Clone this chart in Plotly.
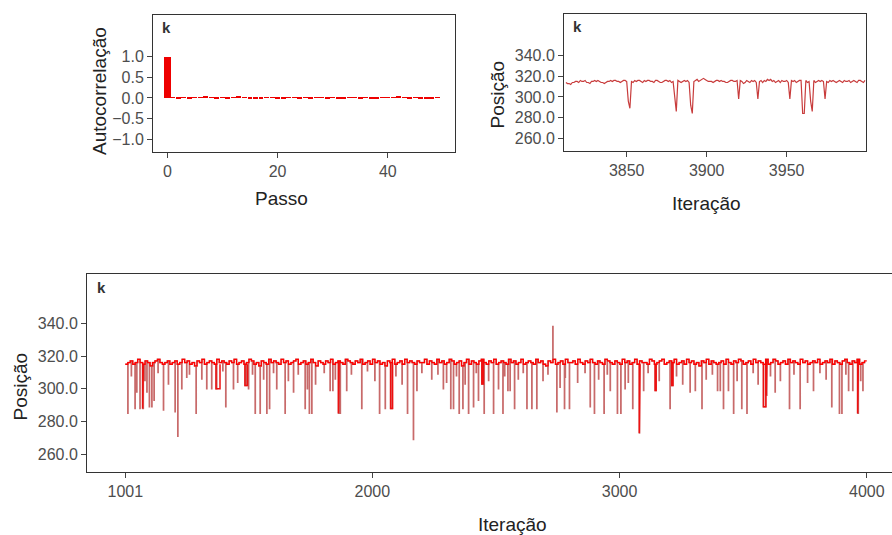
import plotly.graph_objects as go

W, H = 892, 535

# ---------------- data ----------------
# ACF (top-left)
acf_lag = list(range(0, 50))
acf_val = [1.0, 0.02, -0.02, 0.005, -0.005, 0.005, 0.01, 0.025, 0.005, -0.005,
           0.005, -0.02, 0.005, 0.025, 0.005, -0.005, -0.02, -0.02, 0.005, 0.005,
           -0.005, -0.02, 0.005, 0.005, -0.005, 0.005, -0.02, 0.005, 0.005, -0.005,
           0.005, -0.02, -0.02, 0.005, 0.005, -0.005, 0.005, -0.02, -0.02, 0.005,
           0.005, 0.005, 0.025, 0.005, -0.005, 0.005, -0.02, -0.02, -0.005, 0.005]

# Trace of the last iterations (top-right)
tail_iter = list(range(3812, 4000))
tail_pos = [314, 313, 313, 312, 314, 314, 315, 315, 314, 316,
            315, 315, 316, 314, 314, 313, 315, 315, 316, 315,
            316, 315, 314, 314, 313, 314, 315, 315, 316, 315,
            316, 316, 315, 315, 314, 315, 316, 316, 315, 296,
            289, 315, 314, 316, 315, 316, 316, 315, 314, 316,
            315, 316, 316, 315, 315, 314, 316, 316, 315, 314,
            314, 315, 316, 316, 315, 316, 314, 315, 300, 286,
            316, 315, 314, 315, 316, 315, 316, 314, 292, 284,
            315, 316, 317, 315, 316, 317, 318, 317, 316, 315,
            315, 315, 314, 315, 316, 316, 315, 316, 315, 315,
            314, 314, 315, 316, 316, 315, 315, 316, 298, 316,
            315, 313, 314, 316, 315, 314, 316, 315, 316, 314,
            298, 315, 316, 314, 316, 315, 317, 316, 317, 315,
            316, 314, 315, 316, 314, 316, 315, 315, 316, 314,
            298, 316, 315, 316, 314, 315, 316, 316, 284, 284,
            316, 314, 315, 296, 286, 316, 314, 315, 316, 315,
            316, 315, 298, 315, 314, 316, 315, 316, 315, 314,
            315, 316, 315, 314, 316, 315, 315, 316, 314, 315,
            316, 315, 314, 316, 316, 315, 314, 316]

# Full trace (bottom): baseline level every 10 iterations + excursions
base_iter = list(range(1001, 4001, 10))
base_pos = [315, 316, 317, 315, 316, 318, 316, 315, 317, 316, 314, 316, 317, 318, 316, 315, 316, 317, 315, 316,
            317, 315, 316, 318, 316, 317, 315, 316, 314, 317, 316, 318, 315, 316, 317, 316, 315, 318, 316, 317,
            316, 315, 317, 316, 318, 315, 316, 317, 315, 316, 318, 317, 315, 316, 314, 317, 316, 315, 318, 316,
            317, 316, 315, 318, 316, 317, 315, 316, 317, 318, 315, 316, 317, 315, 316, 318, 316, 314, 317, 316,
            315, 317, 316, 318, 315, 316, 317, 316, 315, 318, 317, 316, 315, 317, 316, 318, 315, 316, 317, 315,
            318, 316, 317, 315, 316, 314, 317, 316, 318, 315, 316, 317, 315, 318, 316, 317, 316, 315, 317, 316,
            316, 318, 315, 317, 316, 315, 318, 316, 317, 315, 316, 318, 317, 315, 316, 317, 314, 316, 318, 315,
            317, 316, 315, 317, 318, 316, 315, 317, 316, 318, 315, 316, 317, 316, 315, 318, 316, 317, 315, 316,
            318, 315, 316, 317, 316, 315, 318, 316, 317, 315, 314, 317, 316, 318, 315, 316, 317, 315, 318, 316,
            316, 317, 315, 318, 316, 315, 317, 316, 318, 316, 315, 317, 316, 315, 318, 317, 316, 315, 317, 316,
            315, 318, 316, 317, 315, 316, 318, 315, 317, 316, 316, 315, 318, 317, 315, 316, 317, 318, 315, 316,
            317, 316, 318, 315, 316, 317, 315, 318, 316, 317, 315, 316, 314, 317, 316, 318, 315, 317, 316, 315,
            316, 317, 315, 318, 316, 315, 317, 316, 318, 317, 315, 316, 317, 315, 318, 316, 317, 316, 315, 318,
            315, 316, 318, 317, 315, 316, 317, 315, 318, 316, 317, 316, 315, 318, 316, 317, 315, 316, 317, 316,
            318, 315, 316, 317, 316, 318, 315, 317, 316, 315, 317, 318, 316, 315, 317, 316, 318, 315, 316, 317]
# deep excursions
dip_iter = [1011, 1040, 1047, 1060, 1071, 1088, 1098, 1108, 1117, 1155,
            1202, 1213, 1229, 1249, 1287, 1330, 1350, 1368, 1407, 1438,
            1485, 1499, 1526, 1546, 1573, 1584, 1613, 1647, 1681, 1728,
            1737, 1745, 1755, 1829, 1840, 1863, 1870, 1896, 1957, 2029,
            2052, 2074, 2142, 2166, 2180, 2287, 2317, 2328, 2351, 2366,
            2389, 2409, 2429, 2443, 2452, 2490, 2510, 2528, 2548, 2557,
            2575, 2625, 2645, 2665, 2730, 2746, 2759, 2777, 2797, 2881,
            2898, 2937, 2962, 2991, 3005, 3022, 3053, 3080, 3097, 3144,
            3204, 3211, 3285, 3306, 3333, 3396, 3407, 3420, 3440, 3461,
            3494, 3515, 3582, 3593, 3629, 3687, 3730, 3784, 3858, 3889,
            3899, 3926, 3943, 3963, 3984]
dip_pos = [285, 288, 298, 288, 288, 298, 289, 289, 293, 287,
           286, 271, 300, 307, 285, 300, 300, 300, 289, 300,
           302, 300, 285, 285, 285, 288, 300, 285, 298, 288,
           300, 285, 285, 299, 299, 285, 285, 299, 288, 285,
           288, 288, 285, 269, 299, 300, 288, 288, 285, 288,
           285, 289, 293, 303, 285, 285, 300, 285, 299, 299,
           288, 288, 288, 288, 338, 286, 301, 288, 288, 289,
           285, 285, 299, 285, 285, 300, 288, 273, 299, 299,
           288, 302, 298, 299, 288, 299, 299, 288, 299, 285,
           288, 285, 289, 296, 298, 288, 288, 299, 289, 285,
           285, 299, 299, 285, 299]
dip_len = [1, 1, 1, 1, 3, 1, 1, 1, 1, 1,
           1, 1, 1, 1, 1, 1, 1, 16, 1, 1,
           10, 1, 1, 1, 1, 1, 1, 1, 1, 1,
           1, 1, 1, 1, 1, 3, 1, 1, 1, 1,
           1, 8, 1, 1, 1, 1, 1, 1, 1, 1,
           1, 1, 1, 6, 1, 1, 1, 1, 1, 1,
           1, 1, 1, 1, 1, 1, 1, 1, 1, 1,
           1, 1, 1, 1, 1, 1, 1, 3, 1, 4,
           1, 5, 1, 1, 1, 1, 1, 1, 1, 1,
           1, 1, 10, 3, 1, 1, 1, 1, 1, 1,
           1, 1, 1, 3, 1]
# shallow excursions
shallow_iter = [1025, 1080, 1133, 1175, 1260, 1310, 1395, 1455, 1515, 1560,
                1600, 1660, 1700, 1770, 1805, 1850, 1915, 1980, 2010, 2095,
                2120, 2200, 2240, 2265, 2300, 2340, 2375, 2420, 2470, 2535,
                2590, 2610, 2690, 2710, 2780, 2830, 2860, 2915, 2950, 3035,
                3115, 3160, 3230, 3255, 3350, 3375, 3475, 3540, 3560, 3610,
                3650, 3705, 3760, 3810, 3835, 3915, 3975]
shallow_pos = [308, 305, 310, 303, 309, 306, 311, 304, 309, 306,
               310, 305, 309, 303, 310, 306, 309, 311, 305, 308,
               303, 310, 306, 309, 304, 308, 303, 310, 305, 308,
               306, 310, 305, 309, 307, 304, 310, 306, 309, 304,
               310, 305, 308, 303, 306, 309, 305, 310, 303, 308,
               305, 309, 304, 310, 306, 309, 305]

x_ticks_bottom = [1001, 2000, 3000, 4000]

# ---------------- build bottom series ----------------
def base_at(it):
    v = base_pos[0]
    for bi, bv in zip(base_iter, base_pos):
        if bi <= it:
            v = bv
        else:
            break
    return v

all_dip_iter = dip_iter + shallow_iter
all_dip_pos = dip_pos + shallow_pos
all_dip_len = dip_len + [1] * len(shallow_iter)

events = [(bi, bv, 0) for bi, bv in zip(base_iter, base_pos)]
for di, dv, dl in zip(all_dip_iter, all_dip_pos, all_dip_len):
    events.append((di, dv, 1))
    events.append((di + dl, base_at(di + dl), 2))
events.sort(key=lambda e: (e[0], e[2]))
full_x = [e[0] for e in events]
full_y = [e[1] for e in events]

# held (multi-iteration) excursions, drawn brighter as in the reference
held_x, held_y = [], []
for di, dv, dl in zip(dip_iter, dip_pos, dip_len):
    if dl >= 3:
        b = base_at(di)
        held_x += [di, di, di + dl, di + dl, None]
        held_y += [b, dv, dv, b, None]

def px_x(p):
    return p / W

def px_y(p):
    return 1 - p / H

fig = go.Figure()

# ACF bars
fig.add_trace(go.Bar(x=acf_lag, y=acf_val, width=[1.3] + [0.9] * (len(acf_lag) - 1),
                     marker=dict(color="#ee0000", line=dict(width=0)),
                     xaxis="x", yaxis="y", showlegend=False))
# tail trace
fig.add_trace(go.Scatter(x=tail_iter, y=tail_pos, mode="lines",
                         line=dict(color="#c83c3c", width=1.2),
                         xaxis="x2", yaxis="y2", showlegend=False))
# full trace: excursions (muted) + baseline band (bright)
fig.add_trace(go.Scatter(x=full_x, y=full_y, mode="lines", line_shape="hv",
                         line=dict(color="#c86a6a", width=1.5),
                         xaxis="x3", yaxis="y3", showlegend=False))
fig.add_trace(go.Scatter(x=held_x, y=held_y, mode="lines",
                         line=dict(color="#ee1111", width=1.5),
                         xaxis="x3", yaxis="y3", showlegend=False))
fig.add_trace(go.Scatter(x=base_iter + [4000], y=base_pos + [base_pos[-1]], mode="lines",
                         line_shape="hv",
                         line=dict(color="#ff0000", width=1.3),
                         xaxis="x3", yaxis="y3", showlegend=False))

tickfont = dict(family="Liberation Sans, Arial, sans-serif", size=16, color="#4d4d4d")
common = dict(showgrid=False, zeroline=False, showline=True, linecolor="#333333",
              linewidth=1, ticks="outside", ticklen=5, tickcolor="#444444",
              tickfont=tickfont)

fig.update_layout(
    width=W, height=H, margin=dict(l=0, r=0, t=0, b=0),
    paper_bgcolor="white", plot_bgcolor="white", bargap=0,
    xaxis=dict(domain=[px_x(153), px_x(455)], range=[-2.6, 52.2], anchor="y",
               tickvals=[0, 20, 40], mirror=True, **common),
    yaxis=dict(domain=[px_y(152), px_y(15)], range=[-1.31, 2.01], anchor="x",
               tickvals=[-1, -0.5, 0, 0.5, 1], tickformat=".1f", mirror=True, **common),
    xaxis2=dict(domain=[px_x(564), px_x(866)], range=[3810.8, 3999.6], anchor="y2",
                tickvals=[3850, 3900, 3950], mirror=True, **common),
    yaxis2=dict(domain=[px_y(151), px_y(14)], range=[247.7, 380.3], anchor="x2",
                tickvals=[260, 280, 300, 320, 340], tickformat=".1f", mirror=True, **common),
    xaxis3=dict(domain=[px_x(87), 1.0], range=[846, 4102], anchor="y3",
                tickvals=x_ticks_bottom, mirror=True, **common),
    yaxis3=dict(domain=[px_y(472), px_y(274)], range=[249.2, 370.1], anchor="x3",
                tickvals=[260, 280, 300, 320, 340], tickformat=".1f", mirror=False, **common),
)

title_font = dict(family="Liberation Sans, Arial, sans-serif", size=19, color="#222222")
k_font = dict(family="Liberation Sans, Arial, sans-serif", size=15, color="#333333")
ann = []
for (x, y) in [(166, 27.5), (577, 26), (101, 287.5)]:
    ann.append(dict(text="<b>k</b>", x=px_x(x), y=px_y(y), xref="paper", yref="paper",
                    showarrow=False, font=k_font, xanchor="center", yanchor="middle"))
for (t, x, y, a) in [("Autocorrelação", 99.5, 91.5, -90), ("Posição", 496.5, 95, -90),
                     ("Posição", 19.5, 387, -90), ("Passo", 281.5, 198, 0),
                     ("Iteração", 706, 203, 0), ("Iteração", 512.5, 524, 0)]:
    ann.append(dict(text=t, x=px_x(x), y=px_y(y), xref="paper", yref="paper",
                    showarrow=False, font=title_font, textangle=a,
                    xanchor="center", yanchor="middle"))
fig.update_layout(annotations=ann)

fig.write_html("out.html")
